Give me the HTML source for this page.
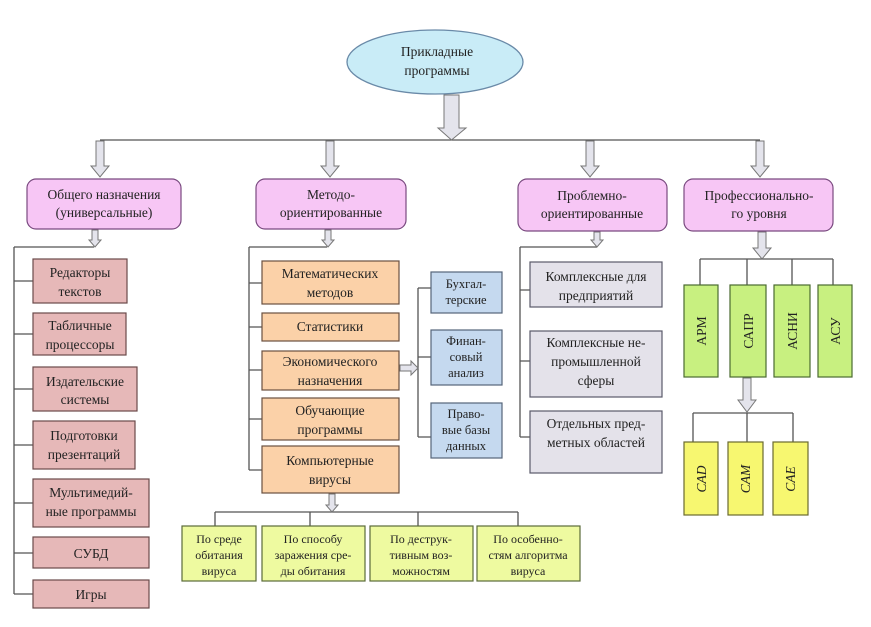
<!DOCTYPE html>
<html><head><meta charset="utf-8"><style>
body{margin:0;background:#fff}
svg text{font-family:"Liberation Serif",serif;font-size:13.5px;fill:#222;text-anchor:middle}
</style></head><body>
<svg width="871" height="622" viewBox="0 0 871 622" xmlns="http://www.w3.org/2000/svg">
<defs>
<g id="arr"><path d="M-3.5,0 H3.5 V-10 H7 L0,0 Z" fill="none"/></g>
</defs>
<rect width="871" height="622" fill="#fff"/>
<g stroke="#555" stroke-width="1.3" fill="none">
<!-- top -->
<path d="M100,140 H760"/>
<!-- left col -->
<path d="M14,247 H94 M14,247 V594 M14,281 H33 M14,334 H33 M14,389 H33 M14,445 H33 M14,503 H33 M14,553 H33 M14,594 H33"/>
<!-- mid col -->
<path d="M249,247 H327 M249,247 V470 M249,283 H262 M249,327 H262 M249,370 H262 M249,419 H262 M249,470 H262"/>
<path d="M418,288 V437 M418,288 H431 M418,357 H431 M418,437 H431"/>
<path d="M215,512 H518 M215,512 V526 M310,512 V526 M418,512 V526 M518,512 V526"/>
<!-- problem col -->
<path d="M520,247 H597 M520,247 V437 M520,290 H530 M520,361 H530 M520,437 H530"/>
<!-- prof -->
<path d="M700,259 H833 M700,259 V285 M747,259 V285 M792,259 V285 M833,259 V285"/>
<path d="M693,413 H793 M693,413 V442 M747,413 V442 M793,413 V442"/>
</g>
<!-- ellipse -->
<ellipse cx="435" cy="62" rx="88" ry="32" fill="#c9ecf7" stroke="#6a8aa8" stroke-width="1.3"/>
<text x="437" y="56">Прикладные</text><text x="437" y="75">программы</text>
<!-- arrows -->
<g fill="#e4e4ec" stroke="#777" stroke-width="1">
<path d="M444,95 H459 V128 H466 L451.5,140 L438,128 H444 Z"/>
<path d="M96,141 H104 V166 H109 L100,177 L91,166 H96 Z"/>
<path d="M326,141 H334 V166 H339 L330,177 L321,166 H326 Z"/>
<path d="M586,141 H594 V166 H599 L590,177 L581,166 H586 Z"/>
<path d="M756,141 H764 V166 H769 L760,177 L751,166 H756 Z"/>
<path d="M92,230 H98 V240 H101 L95,247 L89,240 H92 Z"/>
<path d="M325,230 H331 V240 H334 L328,247 L322,240 H325 Z"/>
<path d="M594,232 H600 V240 H603 L597,247 L591,240 H594 Z"/>
<path d="M758,232 H766 V248 H771 L762,259 L753,248 H758 Z"/>
<path d="M743,378 H751 V400 H756 L747,412 L738,400 H743 Z"/>
<path d="M329,494 H335 V505 H338 L332,512 L326,505 H329 Z"/>
<path d="M400,365 H411 V361 L418,368 L411,375 V371 H400 Z"/>
</g>
<!-- pink -->
<g fill="#f7c6f5" stroke="#7a4a80" stroke-width="1.2">
<rect x="27" y="179" width="154" height="50" rx="9"/>
<rect x="256" y="179" width="150" height="50" rx="9"/>
<rect x="518" y="179" width="149" height="52" rx="9"/>
<rect x="684" y="179" width="149" height="52" rx="9"/>
</g>
<text x="104" y="199">Общего назначения</text><text x="104" y="217">(универсальные)</text>
<text x="331" y="199">Методо-</text><text x="331" y="217">ориентированные</text>
<text x="592" y="200">Проблемно-</text><text x="592" y="218">ориентированные</text>
<text x="759" y="200">Профессионально-</text><text x="759" y="218">го уровня</text>
<!-- red -->
<g fill="#e6b8b8" stroke="#6a4a4a" stroke-width="1.2">
<rect x="33" y="259" width="94" height="44"/>
<rect x="33" y="313" width="93" height="42"/>
<rect x="33" y="367" width="104" height="44"/>
<rect x="33" y="421" width="102" height="48"/>
<rect x="33" y="479" width="116" height="48"/>
<rect x="33" y="537" width="116" height="31"/>
<rect x="33" y="580" width="116" height="28"/>
</g>
<text x="80" y="277">Редакторы</text><text x="80" y="296">текстов</text>
<text x="80" y="330">Табличные</text><text x="80" y="349">процессоры</text>
<text x="85" y="386">Издательские</text><text x="85" y="404">системы</text>
<text x="84" y="440">Подготовки</text><text x="84" y="459">презентаций</text>
<text x="91" y="497">Мультимедий-</text><text x="91" y="516">ные программы</text>
<text x="91" y="558">СУБД</text>
<text x="91" y="599">Игры</text>
<!-- orange -->
<g fill="#fbd1a8" stroke="#6a5040" stroke-width="1.2">
<rect x="262" y="261" width="137" height="43"/>
<rect x="262" y="313" width="137" height="28"/>
<rect x="262" y="351" width="137" height="39"/>
<rect x="262" y="398" width="137" height="42"/>
<rect x="262" y="446" width="137" height="47"/>
</g>
<text x="330" y="278">Математических</text><text x="330" y="297">методов</text>
<text x="330" y="331">Статистики</text>
<text x="330" y="366">Экономического</text><text x="330" y="385">назначения</text>
<text x="330" y="415">Обучающие</text><text x="330" y="434">программы</text>
<text x="330" y="465">Компьютерные</text><text x="330" y="484">вирусы</text>
<!-- blue -->
<g fill="#c5d9ef" stroke="#55657a" stroke-width="1.2">
<rect x="431" y="272" width="71" height="41"/>
<rect x="431" y="330" width="71" height="55"/>
<rect x="431" y="403" width="71" height="55"/>
</g>
<g style="font-size:12.5px">
<text x="466" y="288" style="font-size:12.5px">Бухгал-</text><text x="466" y="304" style="font-size:12.5px">терские</text>
<text x="466" y="345" style="font-size:12.5px">Финан-</text><text x="466" y="361" style="font-size:12.5px">совый</text><text x="466" y="377" style="font-size:12.5px">анализ</text>
<text x="466" y="418" style="font-size:12.5px">Право-</text><text x="466" y="434" style="font-size:12.5px">вые базы</text><text x="466" y="450" style="font-size:12.5px">данных</text>
</g>
<!-- green bottom -->
<g fill="#eefaa0" stroke="#5a6a3a" stroke-width="1.2">
<rect x="182" y="526" width="74" height="55"/>
<rect x="262" y="526" width="103" height="55"/>
<rect x="370" y="526" width="103" height="55"/>
<rect x="477" y="526" width="103" height="55"/>
</g>
<g>
<text x="219" y="543" style="font-size:12px">По среде</text><text x="219" y="559" style="font-size:12px">обитания</text><text x="219" y="575" style="font-size:12px">вируса</text>
<text x="313" y="543" style="font-size:12px">По способу</text><text x="313" y="559" style="font-size:12px">заражения сре-</text><text x="313" y="575" style="font-size:12px">ды обитания</text>
<text x="421" y="543" style="font-size:12px">По деструк-</text><text x="421" y="559" style="font-size:12px">тивным воз-</text><text x="421" y="575" style="font-size:12px">можностям</text>
<text x="528" y="543" style="font-size:12px">По особенно-</text><text x="528" y="559" style="font-size:12px">стям алгоритма</text><text x="528" y="575" style="font-size:12px">вируса</text>
</g>
<!-- gray -->
<g fill="#e4e2ea" stroke="#5a5a6a" stroke-width="1.2">
<rect x="530" y="262" width="132" height="45"/>
<rect x="530" y="331" width="132" height="66"/>
<rect x="530" y="411" width="132" height="62"/>
</g>
<text x="596" y="281">Комплексные для</text><text x="596" y="300">предприятий</text>
<text x="596" y="347">Комплексные не-</text><text x="596" y="366">промышленной</text><text x="596" y="385">сферы</text>
<text x="596" y="428">Отдельных пред-</text><text x="596" y="447">метных областей</text>
<!-- prof green -->
<g fill="#c8f080" stroke="#4a6a30" stroke-width="1.2">
<rect x="684" y="285" width="34" height="92"/>
<rect x="730" y="285" width="36" height="92"/>
<rect x="774" y="285" width="36" height="92"/>
<rect x="818" y="285" width="34" height="92"/>
</g>
<text transform="translate(706,331) rotate(-90)">АРМ</text>
<text transform="translate(753,331) rotate(-90)">САПР</text>
<text transform="translate(797,331) rotate(-90)">АСНИ</text>
<text transform="translate(840,331) rotate(-90)">АСУ</text>
<!-- yellow -->
<g fill="#f7f770" stroke="#6a6a30" stroke-width="1.2">
<rect x="684" y="442" width="34" height="73"/>
<rect x="728" y="442" width="35" height="73"/>
<rect x="773" y="442" width="35" height="73"/>
</g>
<g style="font-style:italic">
<text transform="translate(706,479) rotate(-90)" style="font-style:italic">CAD</text>
<text transform="translate(750,479) rotate(-90)" style="font-style:italic">CAM</text>
<text transform="translate(795,479) rotate(-90)" style="font-style:italic">CAE</text>
</g>
</svg>
</body></html>
